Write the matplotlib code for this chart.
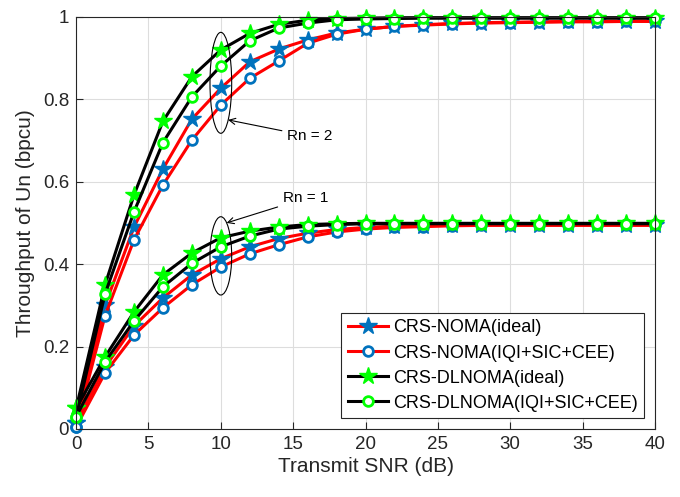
import matplotlib.pyplot as plt
import numpy as np
from matplotlib.patches import Ellipse

plt.rcParams['font.family'] = ['Liberation Sans', 'DejaVu Sans']

snr = np.arange(0, 41, 2)

# Rn = 2
noma_ideal_2 = [0.015, 0.30, 0.49, 0.631, 0.752, 0.827, 0.891, 0.922, 0.944, 0.961, 0.970,
                0.977, 0.981, 0.984, 0.986, 0.987, 0.988, 0.989, 0.989, 0.990, 0.990]
noma_iqi_2 = [0.005, 0.275, 0.459, 0.592, 0.701, 0.786, 0.851, 0.893, 0.936, 0.958, 0.970,
              0.977, 0.980, 0.983, 0.985, 0.986, 0.987, 0.988, 0.988, 0.989, 0.989]
dl_ideal_2 = [0.05, 0.35, 0.568, 0.747, 0.855, 0.92, 0.96, 0.982, 0.992, 0.996, 0.997,
              0.998, 0.998, 0.998, 0.998, 0.998, 0.998, 0.998, 0.998, 0.998, 0.998]
dl_iqi_2 = [0.03, 0.328, 0.527, 0.695, 0.806, 0.881, 0.942, 0.973, 0.985, 0.993, 0.995,
            0.996, 0.997, 0.997, 0.997, 0.997, 0.997, 0.997, 0.997, 0.997, 0.997]

# Rn = 1
noma_ideal_1 = [0.015, 0.15, 0.25, 0.318, 0.374, 0.413, 0.442, 0.462, 0.475, 0.484, 0.489,
                0.492, 0.493, 0.494, 0.495, 0.495, 0.495, 0.495, 0.495, 0.495, 0.495]
noma_iqi_1 = [0.005, 0.136, 0.228, 0.294, 0.350, 0.393, 0.425, 0.447, 0.466, 0.478, 0.485,
              0.489, 0.491, 0.493, 0.494, 0.494, 0.494, 0.494, 0.494, 0.494, 0.494]
dl_ideal_1 = [0.05, 0.175, 0.284, 0.374, 0.427, 0.464, 0.48, 0.49, 0.496, 0.498, 0.499,
              0.499, 0.499, 0.499, 0.499, 0.499, 0.499, 0.499, 0.499, 0.499, 0.499]
dl_iqi_1 = [0.03, 0.163, 0.262, 0.345, 0.402, 0.442, 0.468, 0.485, 0.492, 0.496, 0.498,
            0.498, 0.498, 0.498, 0.498, 0.498, 0.498, 0.498, 0.498, 0.498, 0.498]

labels = ["CRS-NOMA(ideal)", "CRS-NOMA(IQI+SIC+CEE)",
          "CRS-DLNOMA(ideal)", "CRS-DLNOMA(IQI+SIC+CEE)"]

blue = '#0072BD'
green = '#00FF00'
styles = [
    dict(color='red', marker='*', markersize=13, markerfacecolor=blue, markeredgecolor=blue),
    dict(color='red', marker='o', markersize=7, markerfacecolor='white', markeredgecolor=blue, markeredgewidth=2),
    dict(color='black', marker='*', markersize=13, markerfacecolor=green, markeredgecolor=green),
    dict(color='black', marker='o', markersize=7, markerfacecolor='white', markeredgecolor=green, markeredgewidth=2),
]

fig = plt.figure(figsize=(6.8, 4.97), dpi=100)
ax = fig.add_axes([0.112, 0.137, 0.851, 0.829])

sets_2 = [noma_ideal_2, noma_iqi_2, dl_ideal_2, dl_iqi_2]
sets_1 = [noma_ideal_1, noma_iqi_1, dl_ideal_1, dl_iqi_1]
for lab, st, y2, y1 in zip(labels, styles, sets_2, sets_1):
    ax.plot(snr, y2, linewidth=2.2, label=lab, clip_on=False, **st)
    ax.plot(snr, y1, linewidth=2.2, clip_on=False, **st)

ax.add_patch(Ellipse((10, 0.84), 1.5, 0.245, fill=False, edgecolor='black', linewidth=0.8, zorder=5))
ax.add_patch(Ellipse((10, 0.42), 1.5, 0.19, fill=False, edgecolor='black', linewidth=0.8, zorder=5))
ax.annotate("Rn = 2", xy=(10.5, 0.75), xytext=(14.6, 0.71), fontsize=11, va='center',
            arrowprops=dict(arrowstyle='->', color='black', lw=0.8, shrinkA=2, shrinkB=0))
ax.annotate("Rn = 1", xy=(10.4, 0.50), xytext=(14.3, 0.56), fontsize=11, va='center',
            arrowprops=dict(arrowstyle='->', color='black', lw=0.8, shrinkA=2, shrinkB=0))

ax.set_xlim(0, 40)
ax.set_ylim(0, 1)
ax.set_xticks(range(0, 41, 5))
ax.set_yticks(np.arange(0, 1.01, 0.2))
ax.set_yticklabels(['0', '0.2', '0.4', '0.6', '0.8', '1'])
ax.tick_params(direction='in', labelsize=13.5, colors='#262626', length=5, pad=5)
ax.grid(True, color='#DDDDDD', linewidth=0.8)
ax.set_axisbelow(True)
for s in ax.spines.values():
    s.set_color('#262626')
ax.set_xlabel("Transmit SNR (dB)", fontsize=15, color='#262626', labelpad=3)
ax.set_ylabel("Throughput of Un (bpcu)", fontsize=15, color='#262626', labelpad=6)

leg = ax.legend(loc='lower right', fontsize=13, fancybox=False, edgecolor='#262626',
                framealpha=1, handlelength=2.2, borderpad=0.35, labelspacing=0.45,
                handletextpad=0.3, borderaxespad=0.6)
leg.get_frame().set_linewidth(0.8)

fig.savefig("out.png", dpi=100)
